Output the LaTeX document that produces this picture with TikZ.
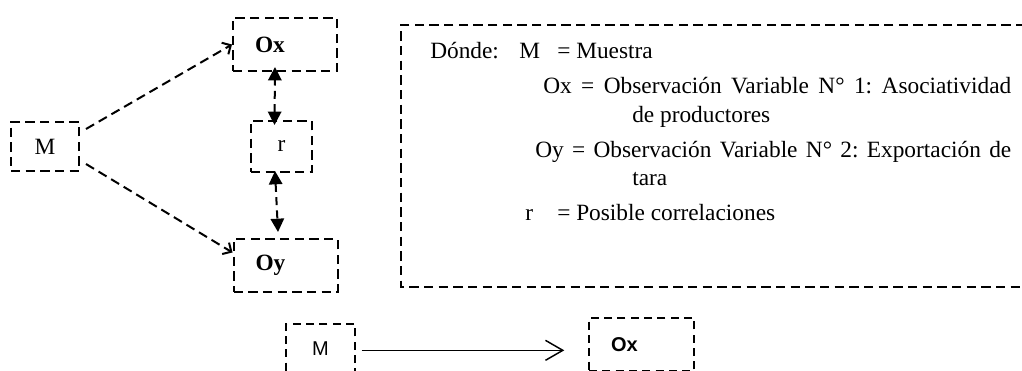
\documentclass[tikz,border=0pt]{standalone}
\usepackage{fontspec}
\setmainfont{Liberation Serif}
\setsansfont{Liberation Sans}
\usetikzlibrary{arrows.meta}
\frenchspacing

\begin{document}
\begin{tikzpicture}[x=0.75pt,y=-0.75pt,auto,box node/.style={rectangle,draw,line width=1.5pt,dash pattern=on 7pt off 4pt,inner sep=0pt,font=\fontsize{17.5}{20}\selectfont},var node/.style={box node,align=left,text width=45pt,inner xsep=16.5pt,minimum height=39.75pt,font=\fontsize{17.5}{20}\selectfont\bfseries},sf node/.style={rectangle,draw,line width=1.1pt,dash pattern=on 6pt off 4pt,inner sep=0pt,font=\fontsize{15}{18}\sffamily},note node/.style={anchor=base west,inner sep=0pt,font=\fontsize{17.5}{20}\selectfont},dash edge/.style={line width=1.5pt,dash pattern=on 7pt off 4pt,-{Straight Barb[length=5pt,width=10pt,line width=1.5pt]}},corr edge/.style={line width=1.5pt,dash pattern=on 6pt off 4pt,{Triangle[length=10pt,width=10pt]}-{Triangle[length=10pt,width=10pt]}}]
            \path[use as bounding box] (0,0) rectangle (1022,371);
            \clip (0,0) rectangle (1022,371);

            % design
            \node[box node,minimum width=51pt,minimum height=36.75pt] (m) at (45,146.5) {M};
            \node[var node] (ox) at (285,44.5) {Ox};
            \node[box node,minimum width=45.75pt,minimum height=38.25pt] (r) at (281.5,146.5) {r};
            \node[var node] (oy) at (285.5,265.5) {Oy};

            \path
                ([shift={(6,8)}]m.north east) edge [dash edge] (ox.west)
                ([shift={(6,-8)}]m.south east) edge [dash edge] ([shift={(0,-13)}]oy.west)
                ([shift={(-7,5)}]r.north) edge [corr edge] ([shift={(-10,-5)}]ox.south)
                ([shift={(-6.5,-2)}]r.south) edge [corr edge] ([shift={(-7.5,-6)}]oy.north)
                ;

            % legend
            \draw[line width=1.5pt,dash pattern=on 7pt off 4pt] (1040,25) -| (401,287) -- (1040,287);
            \node[note node] (donde) at (430,58) {Dónde:};
            \node[note node] (lm) at (519,58) {M};
            \node[note node] (lmt) at (557,58) {= Muestra};
            \node[note node] (lox) at (543,93) {\makebox[351pt][s]{Ox = Observación Variable N° 1: Asociatividad}};
            \node[note node] (loxb) at (632,122) {de productores};
            \node[note node] (loy) at (535,157) {\makebox[357pt][s]{Oy = Observación Variable N° 2: Exportación de}};
            \node[note node] (loyb) at (632,185) {tara};
            \node[note node] (lr) at (525,220) {r};
            \node[note node] (lrt) at (557,220) {= Posible correlaciones};

            % bottom
            \node[sf node,minimum width=51.75pt,minimum height=37.5pt] (m2) at (320.5,349) {M};
            \node[sf node,align=left,text width=45.75pt,inner xsep=16.5pt,minimum height=39.75pt,font=\fontsize{15}{18}\sffamily\bfseries] (ox2) at (641.5,344.5) {Ox};
            \draw[line width=1.1pt,-{Straight Barb[length=13pt,width=15pt,line width=1.1pt]},shorten <=4.5pt,shorten >=18pt] ([yshift=-1]m2.east) -- ([yshift=-1]m2.east -| ox2.west);
        \end{tikzpicture}
\end{document}
